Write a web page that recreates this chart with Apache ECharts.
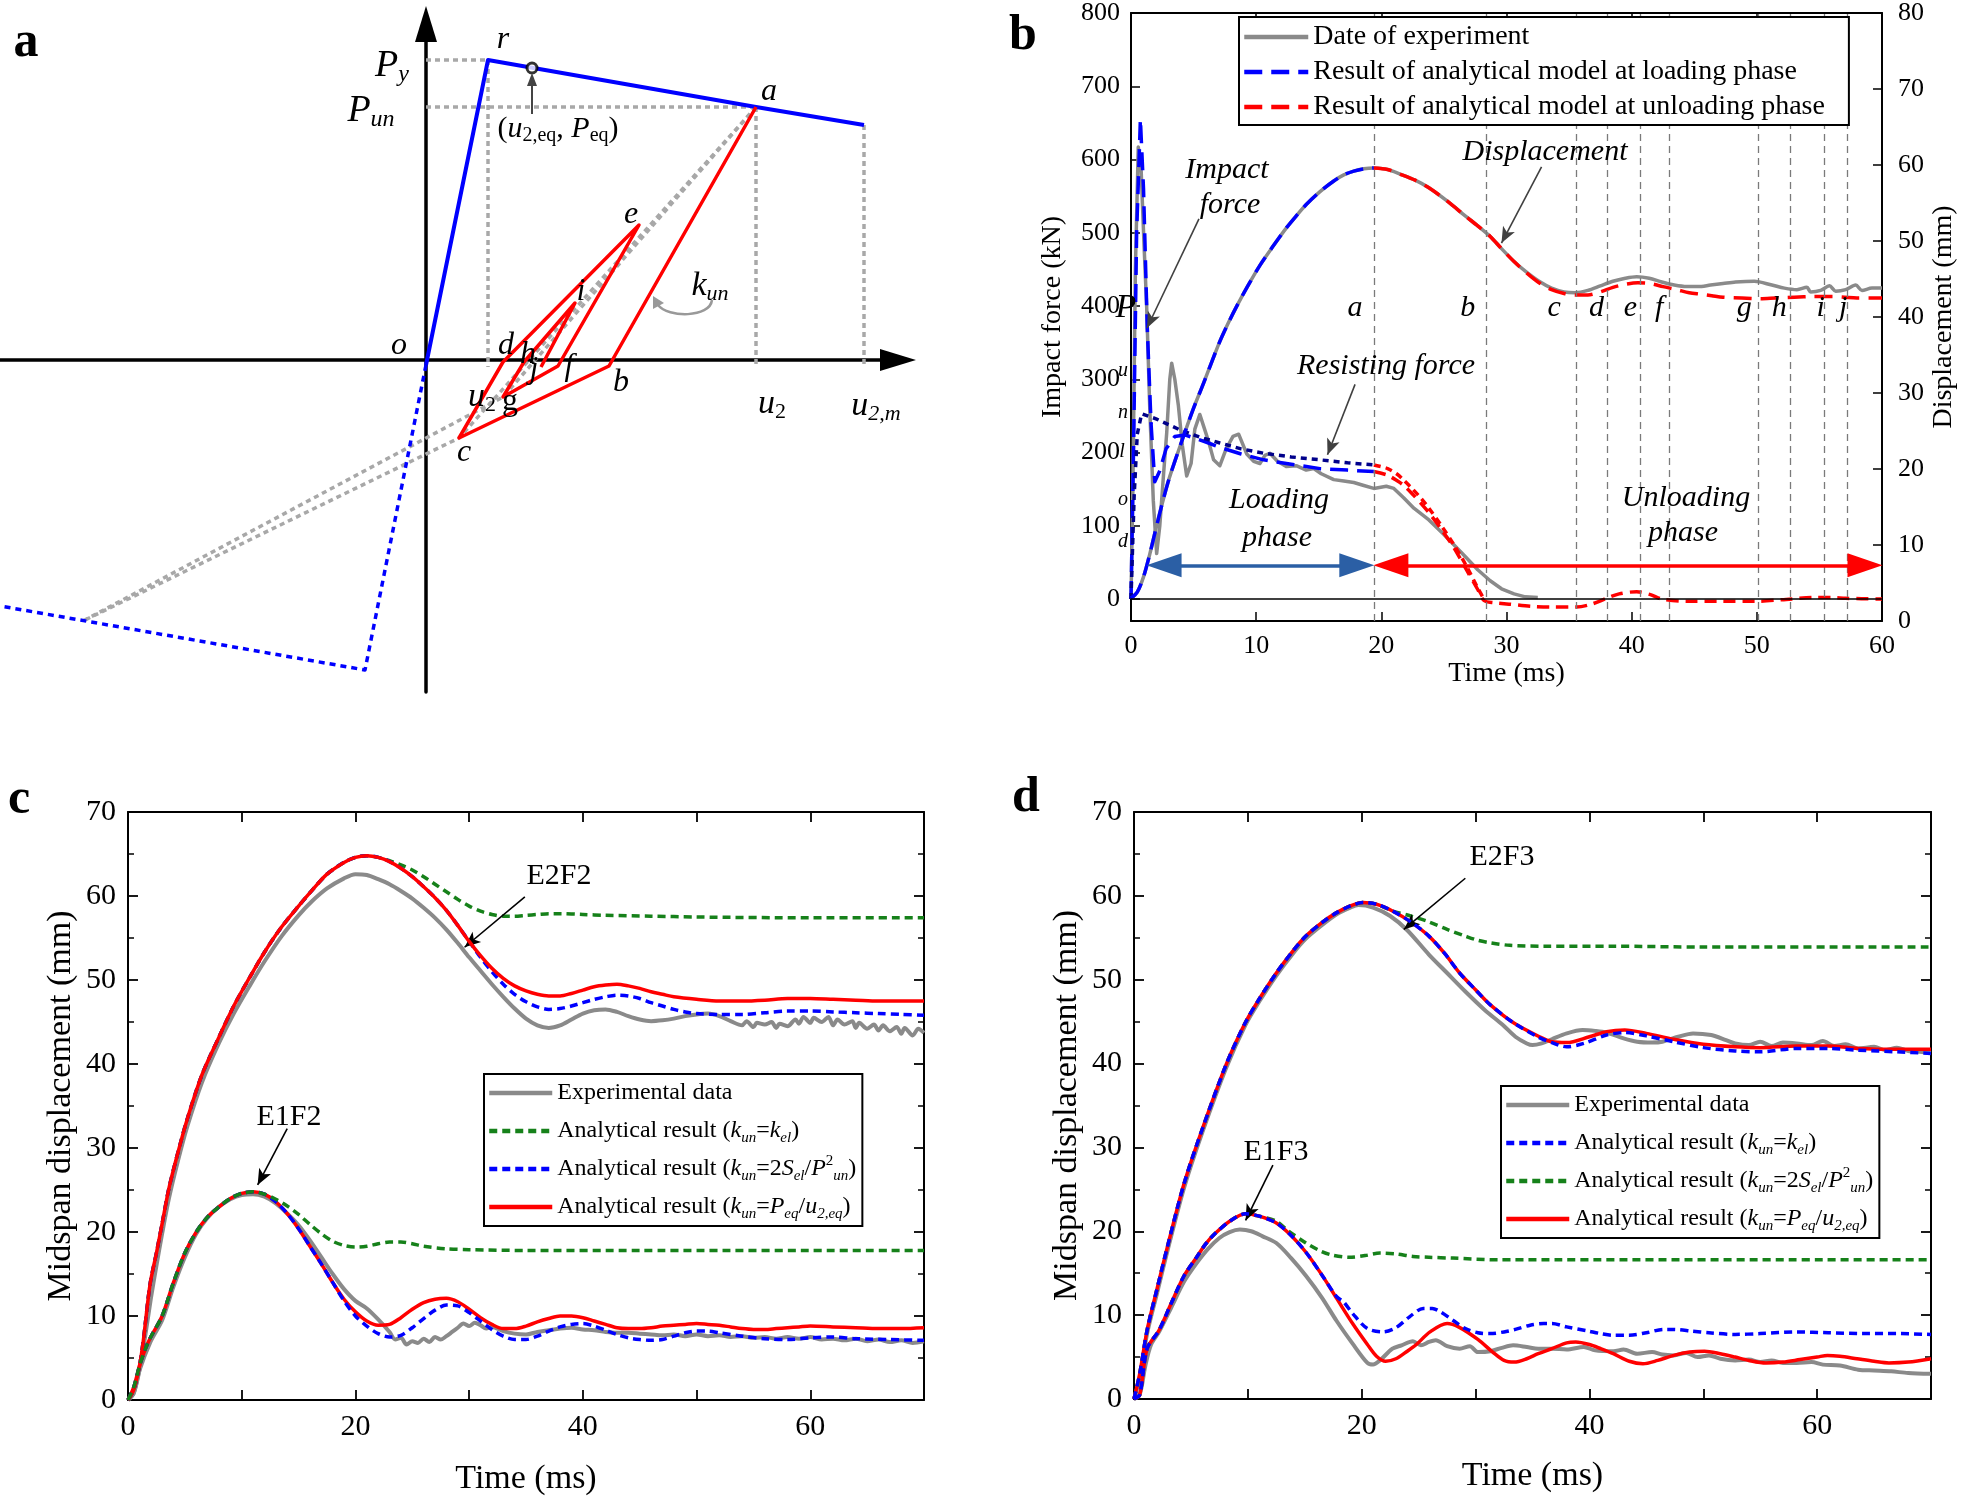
<!DOCTYPE html>
<html><head><meta charset="utf-8">
<script src="https://cdn.jsdelivr.net/npm/echarts@6/dist/echarts.min.js"></script>
<style>html,body{margin:0;padding:0;background:#fff}#c{width:1961px;height:1499px}</style>
</head><body><div id="c"></div>
<script>
const FONT = '"Times New Roman","Liberation Serif",serif';

// ---------- Panel a (schematic, units: u / P) ----------
const aBlueSolid = [[0,-0.05],[0.62,3.0],[3.30,2.53],[4.38,2.35]];
const aBlueDotted = [[0,-0.05],[-0.61,-3.10],[-4.26,-2.46]];
const aRedPath = [[3.30,2.53],[1.83,-0.06],[0.33,-0.78],[0.77,-0.02],[2.13,1.35],[1.32,-0.06],[0.77,-0.37],[0.98,-0.02],[1.49,0.57],[1.15,-0.07]];
const aSecantG = [[3.30,2.53],[0.77,-0.37],[-3.43,-2.61]];
const aSecantC = [[3.30,2.53],[0.33,-0.78],[-3.43,-2.61]];
const aGuidePy = [[0,3.0],[0.62,3.0]];
const aGuidePun = [[0,2.53],[3.30,2.53]];
const aGuideR = [[0.62,3.0],[0.62,-0.07]];
const aGuideA = [[3.30,2.53],[3.30,-0.07]];
const aGuideM = [[4.38,2.35],[4.38,-0.07]];
const aEqPoint = [[1.06,2.92]];

// ---------- Panel b ----------
const bForceTicks = [0,100,200,300,400,500,600,700,800];
const bEventTimes = [19.4,28.35,35.55,38.05,40.7,43.0,50.1,52.7,55.4,57.2];
const bEventNames = ['a','b','c','d','e','f','g','h','i','j'];
const bEventLabelTimes = [17.9,26.9,33.8,37.2,39.9,42.2,49.0,51.8,55.1,56.9];
const bDispExp = [[0,3],[0.5,3.8],[1,5.8],[1.5,8.8],[2,12.2],[2.5,15.5],[3,18.5],[3.5,21],[4.3,24.8],[5,28],[5.8,31.3],[6.5,34.3],[7.1,36.8],[7.8,39.3],[8.44,41.4],[9.3,44],[10.3,46.8],[11.3,49.2],[12.4,51.7],[13.2,53.3],[14.0,54.8],[15.1,56.5],[16.2,57.9],[17.0,58.7],[17.8,59.2],[18.6,59.5],[19.4,59.6],[20.5,59.4],[21.5,58.8],[22.7,58.0],[23.8,57.0],[25.3,55.2],[26.7,53.3],[27.7,52.0],[28.7,50.6],[29.6,49.0],[30.6,47.3],[31.6,45.9],[32.6,44.7],[33.6,43.8],[34.6,43.3],[35.5,43.2],[36.5,43.5],[37.5,44.1],[38.5,44.7],[39.5,45.1],[40.4,45.3],[41.4,45.1],[42.4,44.6],[43.4,44.2],[44.4,44.0],[45.3,44.0],[46.3,44.2],[47.3,44.4],[48.3,44.6],[49.8,44.7],[51.2,44.2],[52.2,43.8],[53.2,43.6],[54.0,43.9],[54.3,43.3],[55.1,43.5],[55.8,44.1],[56.3,43.4],[57.1,43.6],[57.9,44.2],[58.4,43.5],[59.2,43.8],[60,43.8]];
const bDispLoad = [[0,3],[0.5,3.8],[1,5.8],[1.5,8.8],[2,12.2],[2.5,15.5],[3,18.5],[3.5,21],[4.3,24.8],[5,28],[5.8,31.3],[6.5,34.3],[7.1,36.8],[7.8,39.3],[8.44,41.4],[9.3,44],[10.3,46.8],[11.3,49.2],[12.4,51.7],[13.2,53.3],[14.0,54.8],[15.1,56.5],[16.2,57.9],[17.0,58.7],[17.8,59.2],[18.6,59.5],[19.4,59.6]];
const bDispUnload = [[19.4,59.6],[20.5,59.4],[21.5,58.8],[22.7,58.0],[23.8,57.0],[25.3,55.2],[26.7,53.3],[27.7,52.0],[28.7,50.6],[29.6,49.0],[30.6,47.3],[31.6,45.8],[32.6,44.5],[33.6,43.6],[34.6,43.1],[35.5,42.9],[36.5,42.9],[37.5,43.3],[38.5,43.9],[39.5,44.3],[40.5,44.5],[41.5,44.4],[42.5,44.0],[43.6,43.6],[44.6,43.2],[45.5,43.0],[46.4,42.8],[47.3,42.6],[48.8,42.5],[50.3,42.4],[51.5,42.5],[53,42.6],[54.5,42.7],[56,42.7],[57,42.6],[58,42.5],[60,42.5]];
const bForceExp = [[0,0],[0.15,150],[0.35,450],[0.58,617],[0.8,590],[1.05,480],[1.25,400],[1.5,260],[1.78,135],[2.05,62],[2.3,100],[2.6,170],[2.85,226],[3.1,300],[3.25,322],[3.5,300],[3.78,265],[4.1,210],[4.45,168],[4.8,185],[5.1,232],[5.5,252],[5.8,236],[6.2,215],[6.6,190],[7.1,182],[7.6,205],[8.15,222],[8.6,225],[9.25,198],[9.8,188],[10.3,185],[10.7,196],[11.1,199],[11.7,188],[12.4,181],[13.2,182],[14.0,176],[14.6,178],[15.2,171],[16.2,163],[17.0,161],[17.8,159],[18.6,155],[19.4,151],[20.4,154],[21.0,151],[21.8,138],[22.6,124],[23.8,108],[25.0,88],[26.7,58],[27.7,40],[28.7,25],[29.6,14],[30.6,7],[31.5,3],[32.5,2]];
const bForceLoad = [[0,0],[0.2,200],[0.45,500],[0.75,655],[1.0,560],[1.3,370],[1.6,240],[1.9,160],[2.3,175],[2.8,205],[3.5,222],[4.3,224],[5.2,219],[6.2,213],[7.1,207],[8.8,198],[10.6,190],[12.8,184],[15.1,178],[17.3,176],[19.4,174]];
const bResistLoad = [[0,0],[0.25,140],[0.5,225],[0.85,253],[2,246],[3.9,231],[5.5,221],[7.1,213],[8.8,205],[10.6,199],[12.8,194],[15.1,190],[17.3,186],[19.4,183]];
const bResistUnload = [[19.4,183],[20.5,178],[21.3,170],[21.8,162],[22.5,150],[23.2,137],[23.8,124],[24.8,100],[25.8,74],[26.8,45],[27.7,15],[28.2,0]];
const bForceUnload = [[19.4,174],[20.5,169],[21.3,161],[21.8,155],[22.5,143],[23.2,130],[23.8,118],[24.8,95],[25.8,70],[26.8,40],[27.7,13],[28.2,-2],[29,-5],[30.2,-7],[32,-10],[33.6,-11],[35.6,-11],[36.8,-7],[38,1],[39,7],[40.4,10],[41.5,6],[42.4,0],[44.4,-3],[47,-3],[50,-3],[52,-1],[54.6,2],[56,2],[57.1,1],[60,0]];
const bLoadArrow = [[2.64,46],[18.04,46]];
const bUnloadArrow = [[20.76,46],[58.64,46]];

// ---------- Panel c ----------
const cE2Exp = [[0,0],[0.5,0.8],[1,3.5],[1.5,7.5],[2,12],[2.5,16],[3,19.8],[3.6,24],[4.4,28.5],[5.2,32.5],[6.5,37.8],[8,42.5],[9.3,46],[10.7,49.3],[12,52.2],[13.5,55.2],[15,57.7],[16.2,59.4],[17.5,60.9],[19,62.1],[20,62.6],[21,62.5],[22,62.0],[23,61.4],[24,60.6],[25,59.7],[26,58.6],[27,57.4],[28,56.0],[29,54.4],[30,52.7],[31,51.1],[32,49.5],[33,48.0],[34,46.6],[35,45.4],[36,44.6],[37,44.3],[38,44.6],[39,45.3],[40,46.0],[41,46.4],[42,46.5],[43,46.2],[44,45.7],[45,45.3],[46,45.1],[47,45.2],[48,45.4],[49,45.7],[50,45.9],[51,46.0],[52,45.7],[53,45.1],[54,44.6],[54.4,45.1],[55,44.4],[55.3,44.9],[56,44.7],[56.6,45.0],[57,44.3],[57.3,44.8],[58,44.5],[58.7,45.3],[59,44.8],[59.4,45.6],[60,44.9],[60.3,45.5],[61,45.0],[61.6,45.6],[62,44.6],[62.4,45.3],[63,44.7],[63.7,45.1],[64,44.3],[64.3,44.9],[65,44.2],[65.6,44.7],[66,44.0],[66.4,44.6],[67,43.9],[67.6,44.4],[68,43.6],[68.3,44.3],[69,43.4],[69.5,44.2],[70,43.7]];
const cE2Peq = [[0,0],[0.5,1.2],[1,4],[1.35,7.1],[1.93,13.7],[2.5,17.5],[3,21],[3.6,25.2],[4.4,29.5],[5.2,33.4],[6.5,38.7],[8,43.2],[9.3,46.9],[10.7,50.3],[12,53.3],[13.5,56.3],[15,58.8],[16.2,60.7],[17.5,62.6],[19,64.0],[20,64.6],[21,64.8],[22,64.6],[23,64.1],[24,63.3],[25,62.3],[26,61.1],[27,59.8],[28,58.3],[29,56.5],[30,54.6],[31,52.9],[32,51.4],[33,50.2],[34,49.3],[35,48.7],[36,48.3],[37,48.1],[38,48.1],[39,48.4],[40,48.8],[41,49.2],[42,49.4],[43,49.5],[44,49.3],[45,49.0],[46,48.6],[47,48.3],[48,48.0],[50,47.7],[52,47.5],[54,47.5],[56,47.6],[58,47.8],[60,47.8],[62,47.7],[64,47.6],[66,47.5],[68,47.5],[70,47.5]];
const cE2S = [[0,0],[0.5,1.2],[1,4],[1.35,7.1],[1.93,13.7],[2.5,17.5],[3,21],[3.6,25.2],[4.4,29.5],[5.2,33.4],[6.5,38.7],[8,43.2],[9.3,46.9],[10.7,50.3],[12,53.3],[13.5,56.3],[15,58.8],[16.2,60.7],[17.5,62.6],[19,64.0],[20,64.6],[21,64.8],[22,64.6],[23,64.1],[24,63.3],[25,62.3],[26,61.1],[27,59.8],[28,58.3],[29,56.5],[30,54.6],[31,52.7],[32,51.0],[33,49.5],[34,48.3],[35,47.4],[36,46.8],[37,46.5],[38,46.6],[39,46.9],[40,47.3],[41,47.7],[42,48.0],[43,48.2],[44,48.1],[45,47.8],[46,47.3],[47,46.9],[48,46.5],[49,46.2],[50,46.0],[52,45.9],[54,45.9],[56,46.1],[58,46.3],[60,46.3],[62,46.2],[64,46.1],[66,46.0],[68,45.9],[70,45.8]];
const cE2Kel = [[0,0],[0.5,1.2],[1,4],[1.35,7.1],[1.93,13.7],[2.5,17.5],[3,21],[3.6,25.2],[4.4,29.5],[5.2,33.4],[6.5,38.7],[8,43.2],[9.3,46.9],[10.7,50.3],[12,53.3],[13.5,56.3],[15,58.8],[16.2,60.7],[17.5,62.6],[19,64.0],[20,64.6],[21,64.8],[22,64.6],[23,64.2],[24,63.7],[25,63.1],[26,62.3],[27,61.4],[28,60.5],[29,59.6],[30,58.8],[31,58.2],[32,57.8],[33,57.6],[34,57.6],[35,57.7],[36,57.8],[37,57.9],[38,57.9],[40,57.8],[42,57.7],[46,57.6],[50,57.5],[60,57.4],[70,57.4]];
const cE1Exp = [[0,0],[0.5,0.8],[1,3.5],[2,7],[3,9.5],[4,13.5],[5,17],[6,19.8],[7,21.7],[8,23],[9,23.9],[10,24.4],[11,24.5],[12,24.2],[13,23.4],[14,22.2],[15,20.8],[16,19.0],[17,17.0],[18,15.0],[19,13.2],[20,11.8],[21,10.9],[22,9.6],[23,8.1],[23.5,7.2],[24,7.4],[24.5,6.6],[25,7.0],[25.5,6.8],[26,7.3],[26.5,6.9],[27,7.5],[27.5,7.2],[28,7.6],[28.5,8.1],[29,8.6],[29.5,9.1],[30,8.8],[30.5,9.2],[31,8.9],[31.5,8.5],[32,8.7],[33,8.2],[34,7.9],[35,7.8],[36,8.1],[37,8.3],[38,8.5],[39,8.6],[40,8.4],[41,8.3],[42,8.1],[43,8.0],[44,8.0],[45,7.9],[46,7.8],[47,7.7],[48,7.8],[49,7.6],[50,7.8],[51,7.6],[52,7.7],[53,7.5],[54,7.6],[55,7.4],[56,7.5],[57,7.3],[58,7.5],[59,7.3],[60,7.5],[61,7.2],[62,7.3],[63,7.1],[64,7.3],[65,7.0],[66,7.2],[67,6.9],[68,7.1],[69,6.8],[70,7.0]];
const cE1Peq = [[0,0],[0.5,1.5],[1,4],[1.5,6],[2,7.5],[3,10],[4,14],[5,17.5],[6,20],[7,21.8],[8,23],[9,24],[10,24.6],[11,24.8],[12,24.5],[13,23.6],[14,22.2],[15,20.4],[16,18.3],[17,16.2],[18,14],[19,12],[20,10.5],[21,9.4],[22,8.9],[23,9.0],[24,9.8],[25,10.8],[26,11.6],[27,12.0],[28,12.1],[29,11.7],[30,10.8],[31,9.8],[32,9.0],[33,8.5],[34,8.5],[35,8.8],[36,9.3],[37,9.7],[38,10.0],[39,10.0],[40,9.8],[41,9.4],[42,9.0],[43,8.6],[44,8.5],[45,8.5],[46,8.6],[47,8.8],[48,8.9],[49,9.0],[50,9.1],[51,9.0],[52,8.9],[53,8.7],[54,8.5],[55,8.4],[56,8.4],[57,8.5],[58,8.6],[59,8.7],[60,8.8],[62,8.7],[64,8.6],[66,8.5],[68,8.5],[70,8.6]];
const cE1S = [[0,0],[0.5,1.5],[1,4],[1.5,6],[2,7.5],[3,10],[4,14],[5,17.5],[6,20],[7,21.8],[8,23],[9,24],[10,24.6],[11,24.8],[12,24.5],[13,23.6],[14,22.2],[15,20.4],[16,18.3],[17,16.2],[18,14],[19,11.8],[20,10.0],[21,8.8],[22,7.9],[23,7.5],[24,7.7],[25,8.6],[26,9.7],[27,10.7],[28,11.3],[29,11.2],[30,10.4],[31,9.4],[32,8.4],[33,7.6],[34,7.2],[35,7.2],[36,7.6],[37,8.2],[38,8.7],[39,9.0],[40,9.1],[41,8.8],[42,8.3],[43,7.8],[44,7.4],[45,7.2],[46,7.1],[47,7.2],[48,7.6],[49,8.0],[50,8.2],[51,8.2],[52,8.0],[54,7.6],[56,7.3],[58,7.2],[60,7.4],[62,7.5],[64,7.3],[67,7.2],[70,7.1]];
const cE1Kel = [[0,0],[0.5,1.5],[1,4],[1.5,6],[2,7.5],[3,10],[4,14],[5,17.5],[6,20],[7,21.8],[8,23],[9,24],[10,24.6],[11,24.8],[12,24.5],[13,23.9],[14,23.1],[15,22.1],[16,20.9],[17,19.8],[18,18.9],[19,18.4],[20,18.2],[21,18.3],[22,18.6],[23,18.8],[24,18.8],[25,18.6],[26,18.3],[28,18.0],[30,17.9],[35,17.8],[45,17.8],[70,17.8]];

// ---------- Panel d ----------
const dE2Exp = [[0,0],[0.5,2.5],[1.15,7.8],[2,12.5],[3,18],[4.4,25.2],[6,31.8],[8.1,39.5],[9.75,44.5],[11,47.4],[12.5,50.5],[14,53.2],[15.1,54.9],[16.5,56.5],[17.8,57.8],[19,58.6],[19.7,58.9],[21,58.6],[22.5,57.6],[24,55.9],[25.9,53.0],[27.5,50.8],[29.1,48.6],[30.8,46.4],[32.4,44.6],[33.5,43.2],[34.5,42.4],[35,42.2],[35.8,42.4],[36.7,42.9],[38,43.6],[39.4,44.0],[40.5,43.9],[41.5,43.7],[43,43.0],[44.2,42.6],[45.5,42.5],[46.4,42.6],[47.8,43.2],[49.1,43.6],[50.7,43.4],[52,42.8],[52.8,42.4],[54,42.2],[55,42.6],[56,42.1],[57,42.5],[58.2,42.4],[59.5,42.2],[60.5,42.7],[61.5,42.1],[62.5,42.3],[63.6,41.8],[65,42.0],[66,41.6],[67,41.9],[68,41.5],[69,41.4],[70,41.3]];
const dE2Peq = [[0,0],[0.5,3],[1.15,8.2],[2,13],[3,18.5],[4.4,25.7],[6,32.2],[8.1,39.9],[9.75,44.8],[11,47.7],[12.5,50.8],[14,53.5],[15.1,55.2],[16.5,56.8],[17.8,58.0],[19,58.8],[20.1,59.2],[21.3,59.0],[22.7,58.2],[24.3,56.9],[25.9,55.2],[27.3,53.1],[28.6,50.8],[30,48.8],[31.3,47.0],[33.4,44.8],[35.6,43.2],[36.7,42.6],[38,42.5],[40,43.2],[41.5,43.8],[43.1,44.0],[45,43.6],[47.4,42.9],[50,42.3],[52.8,42.0],[55,41.9],[58.2,42.1],[61,42.1],[63.6,41.8],[67,41.7],[70,41.7]];
const dE2Kel = [[0,0],[0.5,3],[1.15,8.2],[2,13],[3,18.5],[4.4,25.7],[6,32.2],[8.1,39.9],[9.75,44.8],[11,47.7],[12.5,50.8],[14,53.5],[15.1,55.2],[16.5,56.8],[17.8,58.0],[19,58.8],[20.1,59.2],[21.3,59.0],[22.7,58.2],[24.3,56.9],[25.9,55.2],[27.3,53.1],[28.6,50.8],[30,48.8],[31.3,47.0],[33.4,44.8],[35.6,43.1],[36.7,42.5],[38,42.0],[39.5,42.4],[41.5,43.4],[43.1,43.7],[45,43.3],[47.4,42.6],[50,41.9],[52.8,41.5],[55,41.4],[58.2,41.8],[61,41.8],[63.6,41.6],[67,41.4],[70,41.2]];
const dE2S = [[0,0],[0.5,3],[1.15,8.2],[2,13],[3,18.5],[4.4,25.7],[6,32.2],[8.1,39.9],[9.75,44.8],[11,47.7],[12.5,50.8],[14,53.5],[15.1,55.2],[16.5,56.8],[17.8,58.0],[19,58.8],[20.1,59.2],[21.3,59.0],[22.7,58.2],[24.3,57.6],[25.9,56.9],[27.5,56.0],[29.1,55.2],[30.2,54.7],[31.3,54.4],[33,54.1],[36,54.0],[42,54.0],[50,53.9],[70,53.9]];
const dE1Exp = [[0,0],[0.5,0.5],[1,4],[1.5,6.5],[2.2,8],[3.3,11],[4.4,14],[5.5,16.2],[6.5,17.9],[7.5,19.2],[8.4,19.9],[9.3,20.2],[10.3,20.0],[11.3,19.4],[12.5,18.6],[13.8,16.8],[15.1,14.7],[16.5,12.1],[17.8,9.3],[19.2,6.6],[20.5,4.3],[21,4.1],[21.6,4.6],[22.7,6.0],[23.5,6.4],[24.5,6.9],[25.2,6.4],[25.9,6.8],[26.5,7.0],[27.5,6.3],[28.6,6.0],[29.5,6.3],[30.2,5.6],[31.3,5.7],[32.3,6.1],[33.3,6.4],[34.5,6.2],[35.5,6.0],[36.7,6.0],[38,5.9],[39.5,6.2],[40.5,5.8],[42.1,5.7],[43,5.9],[44.2,5.4],[45.5,5.6],[46.4,5.3],[47.4,5.2],[48.5,5.5],[49.5,5.0],[50.5,5.2],[51.5,4.8],[52.8,4.6],[54,4.7],[55,4.4],[56,4.6],[57,4.3],[58.2,4.3],[59.5,4.4],[60.5,4.1],[62,4.0],[63.6,3.5],[65,3.4],[66.5,3.3],[68,3.1],[70,3.0]];
const dE1Peq = [[0,0],[0.5,0.5],[1.15,6],[2.2,8.2],[3.3,11.5],[4.4,14.7],[5.5,16.9],[6.3,18.5],[7.1,19.7],[8.4,21.2],[9.8,22.1],[11,21.8],[12.5,21.0],[13.8,19.5],[15.1,17.5],[16.5,14.8],[17.8,12.0],[19.2,9.0],[20.5,6.5],[21.3,5.1],[22.1,4.5],[23,4.8],[24,5.7],[24.8,6.5],[26,8.0],[27.5,9.0],[28.5,8.6],[30.2,7.1],[31.5,5.6],[32.5,4.6],[33.4,4.4],[34.5,4.8],[35.5,5.4],[36.7,6.0],[38,6.7],[38.8,6.8],[40,6.5],[41,6.0],[42.1,5.4],[43.5,4.5],[44.7,4.2],[46,4.6],[47.4,5.2],[48.8,5.6],[50.1,5.7],[51.5,5.4],[52.8,5.0],[54,4.6],[55.5,4.3],[57,4.4],[58.5,4.7],[60,5.0],[60.9,5.2],[62,5.1],[63.5,4.8],[65,4.5],[66.3,4.3],[68,4.4],[70,4.8]];
const dE1Kel = [[0,0],[0.5,0.5],[1.15,6],[2.2,8.2],[3.3,11.5],[4.4,14.7],[5.5,16.9],[6.3,18.5],[7.1,19.7],[8.4,21.2],[9.8,22.1],[11,21.8],[12.5,21.0],[13.8,19.5],[15.1,17.5],[16.5,14.8],[17.8,12.2],[18.4,11.6],[19.2,10.2],[20.5,8.4],[21.9,8.0],[23,8.5],[24.2,9.8],[25.4,10.8],[26.2,10.8],[26.9,10.4],[28,9.4],[29.1,8.4],[30.2,7.9],[31.3,7.8],[32.5,8.0],[33.5,8.3],[34.8,8.8],[36,9.0],[36.7,9.0],[38,8.6],[39.9,8.1],[41,7.8],[42.1,7.6],[43.5,7.6],[45,7.9],[46.5,8.3],[47.4,8.3],[49,8.1],[50.5,7.9],[52.8,7.7],[55,7.8],[58.2,8.0],[61,7.9],[64,7.8],[67,7.8],[70,7.7]];
const dE1S = [[0,0],[0.5,0.5],[1.15,6],[2.2,8.2],[3.3,11.5],[4.4,14.7],[5.5,16.9],[6.3,18.5],[7.1,19.7],[8.4,21.2],[9.8,22.1],[11,21.8],[12.5,21.2],[13.5,20.1],[15.1,18.6],[16.3,17.7],[17.3,17.2],[18.9,16.9],[20.3,17.1],[21.6,17.4],[23,17.3],[24.5,17.0],[25.9,16.9],[28,16.8],[32,16.6],[70,16.6]];

// ---------- annotation arrows (data coords) ----------
const cArrowE2 = [[34.9,59.9],[29.6,53.9]];
const cArrowE1 = [[14.0,32.3],[11.4,25.6]];
const dArrowE2 = [[29.1,62.1],[23.7,56.0]];
const dArrowE1 = [[12.2,27.9],[9.8,21.3]];
const bArrowImpact = [[5.43,519],[1.28,370]];
const bArrowDisp = [[32.8,590],[29.6,486]];
const bArrowResist = [[17.9,293],[15.7,197]];

// ---------- styles ----------
const GRAY = '#8a8a8a', BLUE = '#0000ff', RED = '#ff0000', GREEN = '#16811a', NAVY = '#00008b';

function ln(name, data, color, width, dash, xi, yi, z, smooth) {
  return {type:'line', name, data, xAxisIndex:xi, yAxisIndex:yi, symbol:'none', showSymbol:false,
    smooth: smooth === undefined ? 0.3 : smooth,
    lineStyle:{color, width, type: dash || 'solid', cap:'butt', join:'round'}, itemStyle:{color},
    z: z || 2, silent:true, animation:false, emphasis:{disabled:true}, clip:true};
}
function arrowLine(xi, yi, pairs, color, width, sym, symSize) {
  return {type:'line', data:[], xAxisIndex:xi, yAxisIndex:yi, silent:true, animation:false, z:5,
    markLine:{silent:true, animation:false, symbol:sym, symbolSize:symSize, label:{show:false},
      emphasis:{disabled:true}, lineStyle:{color, width, type:'solid'},
      data: pairs.map(p => [{coord:p[0]},{coord:p[1]}])}};
}

function valAxis(extra) {
  return Object.assign({type:'value', splitLine:{show:false},
    axisLine:{show:true, onZero:false, lineStyle:{color:'#000', width:2}},
    axisTick:{show:true, inside:true, length:10, lineStyle:{color:'#000', width:1.8}},
    axisLabel:{fontSize:30, fontFamily:FONT, color:'#000', margin:12},
    nameTextStyle:{fontSize:34, fontFamily:FONT, color:'#000'}}, extra);
}
function mirror(extra) {
  return valAxis(Object.assign({axisLabel:{show:false}}, extra));
}
const every20 = v => (v % 20 === 0 ? String(v) : '');

// ---------- rich text ----------
const RICH_LEG = {
  i:{fontStyle:'italic', fontSize:24, fontFamily:FONT, color:'#000', lineHeight:30},
  s:{fontStyle:'italic', fontSize:15, fontFamily:FONT, color:'#000', verticalAlign:'bottom', lineHeight:16},
  sp:{fontSize:15, fontFamily:FONT, color:'#000', verticalAlign:'top', lineHeight:16}
};
const LEG = {
  'c|exp':'Experimental data', 'd|exp':'Experimental data',
  'c|kel':'Analytical result ({i|k}{s|un}={i|k}{s|el})', 'd|kel':'Analytical result ({i|k}{s|un}={i|k}{s|el})',
  'c|2S':'Analytical result ({i|k}{s|un}=2{i|S}{s|el}/{i|P}{sp|2}{s|un})', 'd|2S':'Analytical result ({i|k}{s|un}=2{i|S}{s|el}/{i|P}{sp|2}{s|un})',
  'c|peq':'Analytical result ({i|k}{s|un}={i|P}{s|eq}/{i|u}{s|2,eq})', 'd|peq':'Analytical result ({i|k}{s|un}={i|P}{s|eq}/{i|u}{s|2,eq})'
};

function T(x, y, text, size, o) {
  o = o || {};
  const st = {text, fontSize:size, fontFamily:FONT, fontStyle:o.italic ? 'italic' : 'normal',
    fontWeight:o.bold ? 'bold' : 'normal', fill:o.color || '#000',
    align:o.align || 'center', verticalAlign:'middle', textAlign:o.align || 'center', textVerticalAlign:'middle'};
  if (o.rich) st.rich = o.rich;
  if (o.lineHeight) st.lineHeight = o.lineHeight;
  return {type:'text', x, y, silent:true, z:100, style:st};
}
function richA(big, small) {
  return {
    P:{fontSize:big, fontStyle:'italic', fontFamily:FONT, fill:'#000', lineHeight:big+4},
    i:{fontSize:big, fontStyle:'italic', fontFamily:FONT, fill:'#000', lineHeight:big+4},
    n:{fontSize:big, fontFamily:FONT, fill:'#000', lineHeight:big+4},
    s:{fontSize:small, fontStyle:'italic', fontFamily:FONT, fill:'#000', verticalAlign:'bottom', lineHeight:small},
    sn:{fontSize:small, fontFamily:FONT, fill:'#000', verticalAlign:'bottom', lineHeight:small}
  };
}

const graphics = [
  // panel letters
  T(26,43,'a',50,{bold:true}), T(1023,36,'b',50,{bold:true}), T(19,800,'c',50,{bold:true}), T(1026,798,'d',50,{bold:true}),
  // panel a labels
  T(503,40,'r',32,{italic:true}),
  T(392,66,'{P|P}{s|y}',0,{rich:richA(38,24)}),
  T(371,111,'{P|P}{s|un}',0,{rich:richA(38,24)}),
  T(769,92,'a',32,{italic:true}),
  T(558,129,'{n|(}{i|u}{sn|2,eq}{n|, }{i|P}{sn|eq}{n|)}',0,{rich:richA(30,20)}),
  T(631,215,'e',32,{italic:true}), T(581,292,'i',32,{italic:true}),
  T(710,286,'{i|k}{s|un}',0,{rich:richA(34,22)}),
  T(399,346,'o',32,{italic:true}), T(506,346,'d',32,{italic:true}), T(528,355,'h',32,{italic:true}),
  T(534,370,'j',32,{italic:true}), T(569,367,'f',32,{italic:true}), T(621,383,'b',32,{italic:true}),
  T(482,397,'{i|u}{sn|2}',0,{rich:richA(34,22)}), T(510,402,'g',32,{}),
  T(464,453,'c',32,{italic:true}),
  T(772,404,'{i|u}{sn|2}',0,{rich:richA(34,22)}),
  T(876,406,'{i|u}{s|2,m}',0,{rich:richA(34,22)}),
  {type:'line', silent:true, z:90, shape:{x1:532, y1:114, x2:532, y2:82}, style:{stroke:'#444', lineWidth:2}},
  {type:'polygon', silent:true, z:90, shape:{points:[[532,73],[527,86],[537,86]]}, style:{fill:'#444'}},
  {type:'bezierCurve', silent:true, z:90, shape:{x1:712, y1:300, x2:658, y2:305, cpx1:710, cpy1:318, cpx2:668, cpy2:318}, style:{stroke:'#999', lineWidth:2.5, fill:null}},
  {type:'polygon', silent:true, z:90, shape:{points:[[653,296],[653,309],[664,303]]}, style:{fill:'#999'}},
  // panel b text
  T(1227,170,'Impact',30,{italic:true}), T(1230,205,'force',30,{italic:true}),
  T(1545,152,'Displacement',30,{italic:true}), T(1386,366,'Resisting force',30,{italic:true}),
  T(1279,500,'Loading',30,{italic:true}), T(1277,538,'phase',30,{italic:true}),
  T(1686,498,'Unloading',30,{italic:true}), T(1683,533,'phase',30,{italic:true}),
  T(1126,308,'P',34,{italic:true}), T(1123,371,'u',20,{italic:true}), T(1123,413,'n',20,{italic:true}),
  T(1122,452,'l',20,{italic:true}), T(1123,500,'o',20,{italic:true}), T(1123,542,'d',20,{italic:true}),
  // panel c/d labels
  T(559,876,'E2F2',30,{}), T(289,1117,'E1F2',30,{}), T(1502,857,'E2F3',30,{}), T(1276,1152,'E1F3',30,{})
];

const series = [
  // ----- a -----
  ln('aGuidePy', aGuidePy, '#a8a8a8', 3.5, [5,4], 0, 0, 2, false),
  ln('aGuidePun', aGuidePun, '#a8a8a8', 3.5, [5,4], 0, 0, 2, false),
  ln('aGuideR', aGuideR, '#a8a8a8', 3.5, [5,4], 0, 0, 2, false),
  ln('aGuideA', aGuideA, '#a8a8a8', 3.5, [5,4], 0, 0, 2, false),
  ln('aGuideM', aGuideM, '#a8a8a8', 3.5, [5,4], 0, 0, 2, false),
  ln('aSecantG', aSecantG, '#a8a8a8', 3.5, [5,4], 0, 0, 2, false),
  ln('aSecantC', aSecantC, '#a8a8a8', 3.5, [5,4], 0, 0, 2, false),
  ln('aBlueDotted', aBlueDotted, BLUE, 3.5, [6,5], 0, 0, 3, false),
  ln('aBlueSolid', aBlueSolid, BLUE, 4, 'solid', 0, 0, 3, false),
  ln('aRedPath', aRedPath, RED, 3.5, 'solid', 0, 0, 3, false),
  {type:'scatter', data:aEqPoint, xAxisIndex:0, yAxisIndex:0, symbol:'circle', symbolSize:10, silent:true, z:6,
    itemStyle:{color:'#fff', borderColor:'#000', borderWidth:3}, animation:false},
  // ----- b -----
  Object.assign(ln('bForceExp', bForceExp, GRAY, 3.5, 'solid', 1, 1, 2, false), {
    markLine:{silent:true, animation:false, symbol:['none','none'], label:{show:false}, emphasis:{disabled:true},
      data:[{yAxis:0, lineStyle:{color:'#000', width:1.6, type:'solid'}}].concat(
        bEventTimes.map(t => ({xAxis:t, lineStyle:{color:'#7a7a7a', width:1.3, type:[7,5]}})))},
    markPoint:{silent:true, animation:false, symbol:'circle', symbolSize:1, itemStyle:{color:'rgba(0,0,0,0)'},
      label:{show:true, position:'inside', formatter:'{b}', fontSize:30, fontStyle:'italic', fontFamily:FONT, color:'#000'},
      data: bEventNames.map((n,k) => ({name:n, coord:[bEventLabelTimes[k], 397]}))}
  }),
  ln('Date of experiment', bDispExp, GRAY, 3.5, 'solid', 1, 2, 2, 0.3),
  ln('bForceLoad', bForceLoad, BLUE, 3.5, [18,9], 1, 1, 3, false),
  ln('bResistLoad', bResistLoad, NAVY, 3.5, [6,5], 1, 1, 3, false),
  ln('Result of analytical model at loading phase', bDispLoad, BLUE, 3.5, [18,9], 1, 2, 3, 0.3),
  ln('bResistUnload', bResistUnload, RED, 3.5, [7,5], 1, 1, 3, 0.3),
  ln('bForceUnload', bForceUnload, RED, 3.5, [12,7], 1, 1, 3, 0.3),
  ln('Result of analytical model at unloading phase', bDispUnload, RED, 3.5, [18,9], 1, 2, 3, 0.3),
  arrowLine(1, 1, [bLoadArrow], '#2b5fa5', 3.5, ['triangle','triangle'], [24,35]),
  arrowLine(1, 1, [bUnloadArrow], RED, 3.5, ['triangle','triangle'], [24,35]),
  arrowLine(1, 1, [bArrowImpact, bArrowDisp, bArrowResist], '#404040', 1.6, ['none','arrow'], [10,16]),
  // ----- c -----
  ln('c|exp', cE2Exp, GRAY, 4, 'solid', 3, 3, 2),
  ln('c|kel', cE2Kel, GREEN, 3.5, [8,5], 3, 3, 3),
  ln('c|2S', cE2S, BLUE, 3.5, [8,5], 3, 3, 4),
  ln('c|peq', cE2Peq, RED, 3.5, 'solid', 3, 3, 5),
  ln('c|exp', cE1Exp, GRAY, 4, 'solid', 3, 3, 2),
  ln('c|peq', cE1Peq, RED, 3.5, 'solid', 3, 3, 3),
  ln('c|2S', cE1S, BLUE, 3.5, [8,5], 3, 3, 4),
  ln('c|kel', cE1Kel, GREEN, 3.5, [8,5], 3, 3, 5),
  arrowLine(3, 3, [cArrowE2, cArrowE1], '#000', 1.6, ['none','arrow'], [10,16]),
  // ----- d -----
  ln('d|exp', dE2Exp, GRAY, 4, 'solid', 5, 5, 2),
  ln('d|2S', dE2S, GREEN, 3.5, [8,5], 5, 5, 3),
  ln('d|peq', dE2Peq, RED, 3.5, 'solid', 5, 5, 4),
  ln('d|kel', dE2Kel, BLUE, 3.5, [8,5], 5, 5, 5),
  ln('d|exp', dE1Exp, GRAY, 4, 'solid', 5, 5, 2),
  ln('d|2S', dE1S, GREEN, 3.5, [8,5], 5, 5, 3),
  ln('d|peq', dE1Peq, RED, 3.5, 'solid', 5, 5, 4),
  ln('d|kel', dE1Kel, BLUE, 3.5, [8,5], 5, 5, 5),
  arrowLine(5, 5, [dArrowE2, dArrowE1], '#000', 1.6, ['none','arrow'], [10,16])
];

const legendBase = {orient:'vertical', selectedMode:false, borderColor:'#000', borderWidth:2, backgroundColor:'#fff', z:20,
  itemStyle:{opacity:0}, lineStyle:{width:4.5}};

const option = {
  animation:false,
  backgroundColor:'#fff',
  grid:[
    {left:0, top:24, width:898, height:668},
    {left:1131, top:13, width:751, height:608},
    {left:128, top:812, width:796, height:588},
    {left:1134, top:812, width:797, height:587}
  ],
  xAxis:[
    {gridIndex:0, type:'value', min:-4.26, max:4.72, splitLine:{show:false}, axisTick:{show:false}, axisLabel:{show:false},
      axisLine:{show:true, onZero:true, symbol:['none','triangle'], symbolSize:[22,36], lineStyle:{color:'#000', width:3.5}}},
    valAxis({gridIndex:1, min:0, max:60, interval:10, position:'bottom',
      axisTick:{show:true, inside:true, length:9, lineStyle:{color:'#000', width:1.5}},
      axisLabel:{fontSize:26, fontFamily:FONT, color:'#000', margin:12},
      name:'Time (ms)', nameLocation:'middle', nameGap:33, nameTextStyle:{fontSize:28, fontFamily:FONT, color:'#000'}}),
    mirror({gridIndex:1, min:0, max:60, interval:10, position:'top',
      axisTick:{show:true, inside:true, length:9, lineStyle:{color:'#000', width:1.5}}}),
    valAxis({gridIndex:2, min:0, max:70, interval:10, position:'bottom',
      axisLabel:{fontSize:30, fontFamily:FONT, color:'#000', margin:12, formatter:every20},
      name:'Time (ms)', nameLocation:'middle', nameGap:62}),
    mirror({gridIndex:2, min:0, max:70, interval:10, position:'top'}),
    valAxis({gridIndex:3, min:0, max:70, interval:10, position:'bottom',
      axisLabel:{fontSize:30, fontFamily:FONT, color:'#000', margin:12, formatter:every20},
      name:'Time (ms)', nameLocation:'middle', nameGap:60})
    ,mirror({gridIndex:3, min:0, max:70, interval:10, position:'top'})
  ],
  yAxis:[
    {gridIndex:0, type:'value', min:-3.32, max:3.36, splitLine:{show:false}, axisTick:{show:false}, axisLabel:{show:false},
      axisLine:{show:true, onZero:true, symbol:['none','triangle'], symbolSize:[22,36], lineStyle:{color:'#000', width:3.5}}},
    valAxis({gridIndex:1, min:-30, max:800, position:'left',
      axisTick:{show:true, inside:true, length:9, customValues:bForceTicks, lineStyle:{color:'#000', width:1.5}},
      axisLabel:{fontSize:26, fontFamily:FONT, color:'#000', margin:11, customValues:bForceTicks},
      name:'Impact force (kN)', nameLocation:'middle', nameGap:64, nameRotate:90,
      nameTextStyle:{fontSize:28, fontFamily:FONT, color:'#000'}}),
    valAxis({gridIndex:1, min:0, max:80, interval:10, position:'right',
      axisTick:{show:true, inside:true, length:9, lineStyle:{color:'#000', width:1.5}},
      axisLabel:{fontSize:26, fontFamily:FONT, color:'#000', margin:16},
      name:'Displacement (mm)', nameLocation:'middle', nameGap:48, nameRotate:90,
      nameTextStyle:{fontSize:28, fontFamily:FONT, color:'#000'}}),
    valAxis({gridIndex:2, min:0, max:70, interval:10, position:'left',
      minorTick:{show:true, splitNumber:2, length:6, lineStyle:{color:'#000', width:1.5}},
      name:'Midspan displacement (mm)', nameLocation:'middle', nameGap:50, nameRotate:90}),
    mirror({gridIndex:2, min:0, max:70, interval:10, position:'right',
      minorTick:{show:true, splitNumber:2, length:6, lineStyle:{color:'#000', width:1.5}}}),
    valAxis({gridIndex:3, min:0, max:70, interval:10, position:'left',
      minorTick:{show:true, splitNumber:2, length:6, lineStyle:{color:'#000', width:1.5}},
      name:'Midspan displacement (mm)', nameLocation:'middle', nameGap:50, nameRotate:90}),
    mirror({gridIndex:3, min:0, max:70, interval:10, position:'right',
      minorTick:{show:true, splitNumber:2, length:6, lineStyle:{color:'#000', width:1.5}}})
  ],
  legend:[
    Object.assign({}, legendBase, {left:1239, top:17, itemWidth:64, itemHeight:14, itemGap:5, padding:[5,24,3,3],
      data:['Date of experiment','Result of analytical model at loading phase','Result of analytical model at unloading phase'],
      textStyle:{fontSize:28, fontFamily:FONT, color:'#000', lineHeight:30}}),
    Object.assign({}, legendBase, {left:484, top:1074, itemWidth:63, itemHeight:14, itemGap:8, padding:[4,6,4,3],
      data:['c|exp','c|kel','c|2S','c|peq'], formatter:n => LEG[n],
      textStyle:{fontSize:24, fontFamily:FONT, color:'#000', lineHeight:30, rich:RICH_LEG}}),
    Object.assign({}, legendBase, {left:1501, top:1086, itemWidth:63, itemHeight:14, itemGap:8, padding:[4,6,4,3],
      data:['d|exp','d|kel','d|2S','d|peq'], formatter:n => LEG[n],
      textStyle:{fontSize:24, fontFamily:FONT, color:'#000', lineHeight:30, rich:RICH_LEG}})
  ],
  graphic: graphics,
  series
};

const chart = echarts.init(document.getElementById('c'), null, {renderer:'canvas', width:1961, height:1499});
chart.setOption(option);
</script>
</body></html>
